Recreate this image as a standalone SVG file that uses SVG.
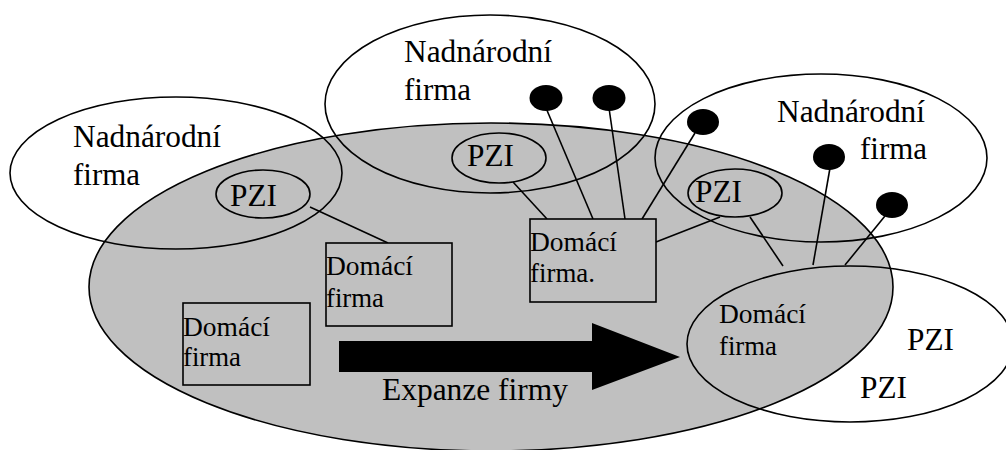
<svg xmlns="http://www.w3.org/2000/svg" width="1006" height="450" viewBox="0 0 1006 450">
<style>
.big{font-size:31px}
.sm{font-size:27px}
.o{fill:none;stroke:#000;stroke-width:1.6}
.box{fill:#c0c0c0;stroke:#000;stroke-width:1.6}
.dot{fill:#000}
.ln{stroke:#000;stroke-width:1.6;fill:none}
</style>
<rect width="1006" height="450" fill="#fff"/>
<g id="home-market">
<ellipse cx="491" cy="287" rx="402" ry="164" fill="#c0c0c0" stroke="#000" stroke-width="1.6"/>
</g>
<g font-family="'Liberation Serif', 'Times New Roman', 'DejaVu Serif', serif" fill="#000">
<g id="mnc-left">
<ellipse class="o" cx="176" cy="173" rx="166" ry="76"/>
<text class="big" x="73" y="147" textLength="148" lengthAdjust="spacingAndGlyphs">Nadnárodní</text>
<text class="big" x="73" y="185" textLength="67" lengthAdjust="spacingAndGlyphs">firma</text>
</g>
<g id="mnc-top">
<ellipse class="o" cx="490" cy="104" rx="165" ry="89"/>
<text class="big" x="404" y="62" textLength="148" lengthAdjust="spacingAndGlyphs">Nadnárodní</text>
<text class="big" x="404" y="100" textLength="67" lengthAdjust="spacingAndGlyphs">firma</text>
</g>
<g id="mnc-right">
<ellipse class="o" cx="821" cy="158" rx="166" ry="84"/>
<text class="big" x="777" y="122" textLength="148" lengthAdjust="spacingAndGlyphs">Nadnárodní</text>
<text class="big" x="860" y="159" textLength="67" lengthAdjust="spacingAndGlyphs">firma</text>
</g>
<g id="home-firm-right">
<ellipse class="o" cx="850" cy="344" rx="163" ry="78"/>
<text class="sm" x="719" y="323" textLength="87" lengthAdjust="spacingAndGlyphs">Domácí</text>
<text class="sm" x="719" y="355" textLength="58" lengthAdjust="spacingAndGlyphs">firma</text>
<text class="big" x="907" y="350" textLength="47" lengthAdjust="spacingAndGlyphs">PZI</text>
<text class="big" x="860" y="398" textLength="47" lengthAdjust="spacingAndGlyphs">PZI</text>
</g>
<g id="connectors">
<line class="ln" x1="310" y1="207" x2="388" y2="243"/>
<line class="ln" x1="513" y1="182" x2="547" y2="219"/>
<line class="ln" x1="546" y1="108" x2="593" y2="219"/>
<line class="ln" x1="609" y1="108" x2="625" y2="219"/>
<line class="ln" x1="695" y1="133" x2="642" y2="219"/>
<line class="ln" x1="720" y1="217" x2="656" y2="242"/>
<line class="ln" x1="750" y1="217" x2="783" y2="266"/>
<line class="ln" x1="830" y1="168" x2="813" y2="265"/>
<line class="ln" x1="885" y1="216" x2="845" y2="265"/>
</g>
<g id="subsidiaries">
<ellipse class="dot" cx="546" cy="98" rx="16.5" ry="13"/>
<ellipse class="dot" cx="609" cy="98" rx="16.5" ry="13"/>
<ellipse class="dot" cx="703" cy="122" rx="16" ry="13"/>
<ellipse class="dot" cx="829" cy="157" rx="16" ry="13"/>
<ellipse class="dot" cx="892" cy="205" rx="16" ry="13"/>
</g>
<g id="pzi-left">
<ellipse class="o" cx="263" cy="194" rx="47" ry="24"/>
<text class="big" x="230" y="206" textLength="47" lengthAdjust="spacingAndGlyphs">PZI</text>
</g>
<g id="pzi-top">
<ellipse class="o" cx="499" cy="158" rx="47" ry="25"/>
<text class="big" x="467" y="166" textLength="47" lengthAdjust="spacingAndGlyphs">PZI</text>
</g>
<g id="pzi-right">
<ellipse class="o" cx="735" cy="193" rx="47" ry="24"/>
<text class="big" x="695" y="202" textLength="47" lengthAdjust="spacingAndGlyphs">PZI</text>
</g>
<g id="home-firm-a">
<rect class="box" x="326" y="243" width="126" height="83"/>
<text class="sm" x="326" y="275" textLength="87" lengthAdjust="spacingAndGlyphs">Domácí</text>
<text class="sm" x="326" y="307" textLength="58" lengthAdjust="spacingAndGlyphs">firma</text>
</g>
<g id="home-firm-b">
<rect class="box" x="183" y="303" width="127" height="82"/>
<text class="sm" x="183" y="336" textLength="87" lengthAdjust="spacingAndGlyphs">Domácí</text>
<text class="sm" x="183" y="366" textLength="58" lengthAdjust="spacingAndGlyphs">firma</text>
</g>
<g id="home-firm-c">
<rect class="box" x="530" y="219" width="126" height="83"/>
<text class="sm" x="530" y="251" textLength="87" lengthAdjust="spacingAndGlyphs">Domácí</text>
<text class="sm" x="530" y="282" textLength="65" lengthAdjust="spacingAndGlyphs">firma.</text>
</g>
<g id="expansion">
<polygon points="339,341 592,341 592,323 680,357 592,390 592,372 339,372" fill="#000"/>
<text class="big" x="382" y="400" textLength="186" lengthAdjust="spacingAndGlyphs">Expanze firmy</text>
</g>
</g>
</svg>
